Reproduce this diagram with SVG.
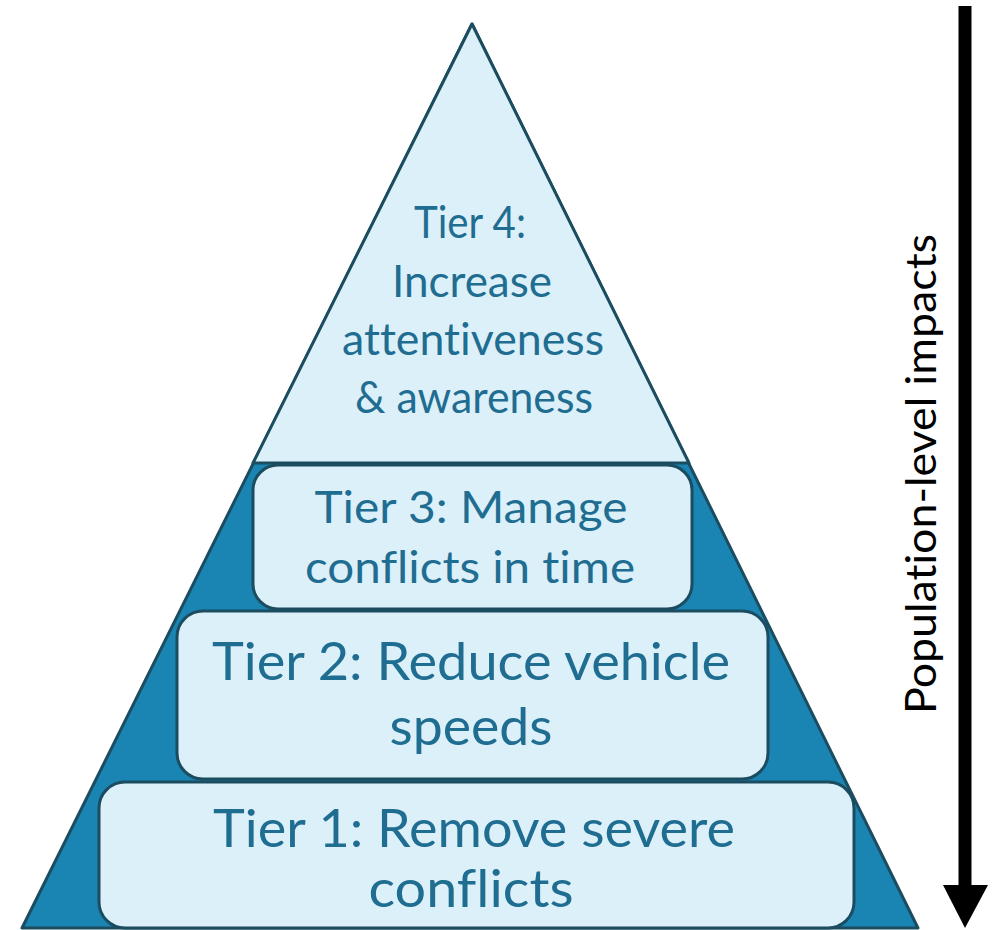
<svg xmlns="http://www.w3.org/2000/svg" width="995" height="930" viewBox="0 0 995 930">
<style>
.tier{fill:#dcf0f9;stroke:#1b4c60;stroke-width:3}
.t{font-family:Lato,"Open Sans",sans-serif;fill:#1f6d91;text-anchor:middle;font-variant-ligatures:none}
.v{font-family:Lato,"Open Sans",sans-serif;fill:#000;text-anchor:middle;font-variant-ligatures:none}
</style>
<rect width="995" height="930" fill="#fff"/>
<g id="pyramid">
<polygon points="472,24 22,928 918,928" fill="#1a84b3" stroke="#1b4c60" stroke-width="3" stroke-linejoin="round"/>
</g>
<g id="tier4">
<polygon points="472,24 253,463 689,463" class="tier" stroke-linejoin="round"/>
<text class="t" font-size="44"><tspan x="470" y="238" textLength="112" lengthAdjust="spacingAndGlyphs">Tier 4:</tspan><tspan x="472" y="297" textLength="160" lengthAdjust="spacingAndGlyphs">Increase</tspan><tspan x="473" y="355" textLength="262" lengthAdjust="spacingAndGlyphs">attentiveness</tspan><tspan x="474" y="413" textLength="238" lengthAdjust="spacingAndGlyphs">&amp; awareness</tspan></text>
</g>
<g id="tier3">
<rect x="253" y="465" width="439" height="144" rx="25" class="tier"/>
<text class="t" font-size="45"><tspan x="471" y="523" textLength="313" lengthAdjust="spacingAndGlyphs">Tier 3: Manage</tspan><tspan x="470" y="583" textLength="330" lengthAdjust="spacingAndGlyphs">conflicts in time</tspan></text>
</g>
<g id="tier2">
<rect x="177" y="611" width="591" height="168" rx="26" class="tier"/>
<text class="t" font-size="52"><tspan x="471" y="680" textLength="518" lengthAdjust="spacingAndGlyphs">Tier 2: Reduce vehicle</tspan><tspan x="471" y="745" textLength="163" lengthAdjust="spacingAndGlyphs">speeds</tspan></text>
</g>
<g id="tier1">
<rect x="99" y="782" width="755" height="146" rx="26" class="tier"/>
<text class="t" font-size="52"><tspan x="474" y="847" textLength="522" lengthAdjust="spacingAndGlyphs">Tier 1: Remove severe</tspan><tspan x="471" y="907" textLength="205" lengthAdjust="spacingAndGlyphs">conflicts</tspan></text>
</g>
<g id="connectors">
<line x1="965" y1="6" x2="965" y2="888" stroke="#000" stroke-width="13"/>
<polygon points="943,885 988,885 965,928" fill="#000"/>
</g>
<g id="axis-label">
<text class="v" font-size="42" transform="translate(936,474) rotate(-90)" x="0" y="0" textLength="480" lengthAdjust="spacingAndGlyphs">Population-level impacts</text>
</g>
</svg>
